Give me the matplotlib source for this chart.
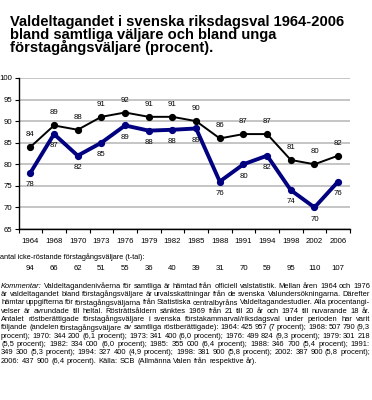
import matplotlib
matplotlib.use("Agg")
import matplotlib.pyplot as plt
import matplotlib.transforms as mtransforms
import numpy as np

plt.rcParams['font.family'] = ['Liberation Sans', 'DejaVu Sans']

# data
years = ['1964', '1968', '1970', '1973', '1976', '1979', '1982', '1985',
         '1988', '1991', '1994', '1998', '2002', '2006']
samtliga = [84, 89, 88, 91, 92, 91, 91, 90, 86, 87, 87, 81, 80, 82]
unga = [78, 87, 82, 85, 89, 87.8, 88, 88.3, 76, 80, 82, 74, 70, 76]
unga_labels = [78, 87, 82, 85, 89, 88, 88, 89, 76, 80, 82, 74, 70, 76]
icke_rostande = [94, 66, 62, 51, 55, 36, 40, 39, 31, 70, 59, 95, 110, 107]

title = ("Valdeltagandet i svenska riksdagsval 1964-2006\n"
         "bland samtliga väljare och bland unga\n"
         "förstagångsväljare (procent).")

comment_lines = [
    "Kommentar: Valdeltagandenivåerna för samtliga är hämtad från officiell valstatistik. Mellan åren 1964 och 1976",
    "är valdeltagandet bland förstagångsväljare är urvalsskattningar från de svenska Valundersökningarna. Därefter",
    "hämtar uppgifterna för förstagångsväljarna från Statistiska centralbyråns Valdeltagandestudier. Alla procentangi-",
    "velser är avrundade till heltal. Rösträttsåldern sänktes 1969 från 21 till 20 år och 1974 till nuvarande 18 år.",
    "Antalet röstberättigade förstagångsväljare i svenska förstakammarval/riksdagsval under perioden har varit",
    "följande (andelen förstagångsväljare av samtliga röstberättigade): 1964: 425 957 (7 procent); 1968: 507 790 (9,3",
    "procent); 1970: 344 200 (6,1 procent); 1973: 341 400 (6,0 procent); 1976: 499 824 (9,3 procent); 1979: 301 218",
    "(5,5 procent); 1982: 334 000 (6,0 procent); 1985: 355 000 (6,4 procent); 1988: 346 700 (5,4 procent); 1991:",
    "349 300 (5,3 procent); 1994: 327 400 (4,9 procent); 1998: 381 900 (5,8 procent); 2002: 387 900 (5,8 procent);",
    "2006: 437 900 (6,4 procent). Källa: SCB (Allmänna Valen från respektive år).",
]

W, H = 372, 400
fig = plt.figure(figsize=(W / 100, H / 100), dpi=100)
ax = fig.add_axes([18.5 / W, 1 - 229 / H, (350 - 18.5) / W, (229 - 78) / H])

x = np.arange(len(years))
ax.plot(x, samtliga, color='black', lw=1.4, marker='o', ms=4.2, zorder=3)
ax.plot(x, unga, color='#000080', lw=2.8, marker='o', ms=4.2, zorder=3)

lab_fs = 5.6
for xi, v in zip(x, samtliga):
    ax.annotate(str(v), (xi, v), xytext=(0, 9), textcoords='offset points',
                ha='center', va='center', fontsize=lab_fs)
for xi, v, lab in zip(x, unga, unga_labels):
    ax.annotate(str(lab), (xi, v), xytext=(0, -8.5), textcoords='offset points',
                ha='center', va='center', fontsize=lab_fs)

ax.set_xlim(-0.5, len(years) - 0.5)
ax.set_ylim(65, 100)
ax.set_yticks(range(65, 101, 5))
ax.yaxis.grid(True, color='#c0c0c0', lw=1.3)
ax.set_axisbelow(True)
ax.tick_params(axis='y', labelsize=lab_fs, length=3, width=0.8, pad=1.5)

# tick marks between categories, labels at the categories
ax.set_xticks(np.arange(len(years) + 1) - 0.5)
ax.set_xticklabels([])
ax.set_xticks(x, minor=True)
ax.set_xticklabels(years, minor=True, fontsize=lab_fs)
ax.tick_params(axis='x', which='major', length=3, width=0.8)
ax.tick_params(axis='x', which='minor', length=0, pad=6.5)

for s in ['top', 'right']:
    ax.spines[s].set_visible(False)
ax.spines['left'].set_linewidth(1.0)
ax.spines['bottom'].set_linewidth(1.0)

fig.text(10 / W, 1 - 15 / H, title, fontsize=10.6, fontweight='bold',
         va='top', ha='left', linespacing=0.88)

fig.text(0, 1 - 257 / H, "antal icke-röstande förstagångsväljare (t-tal):",
         fontsize=5.35, va='center', ha='left')
trans = mtransforms.blended_transform_factory(ax.transData, fig.transFigure)
for xi, n in zip(x, icke_rostande):
    fig.text(xi, 1 - 269 / H, str(n), transform=trans, fontsize=lab_fs,
             ha='center', va='center')

# justified comment paragraph
renderer = fig.canvas.get_renderer()
x0, x1 = 1.0, 370.0


def text_width(s, fs, style='normal'):
    t = fig.text(0, 0, s, fontsize=fs, style=style)
    w = t.get_window_extent(renderer).width
    t.remove()
    return w


def measure(words, styles, fs):
    space = text_width('a a', fs) - 2 * text_width('a', fs)
    widths = [text_width(w, fs, st) for w, st in zip(words, styles)]
    return space, widths


def split(i, line):
    words = line.split(' ')
    styles = ['normal'] * len(words)
    if i == 0:
        styles[0] = 'italic'
    return words, styles


# size the text so that the hyphenated third line just fills the width
words, styles = split(2, comment_lines[2])
fs = 6.0
for _ in range(4):
    space, widths = measure(words, styles, fs)
    natural = sum(widths) + space * (len(words) - 1)
    fs *= (x1 - x0) / natural

y = 286.0
for i, line in enumerate(comment_lines):
    words, styles = split(i, line)
    lfs = fs
    space, widths = measure(words, styles, lfs)
    # shrink a line that would otherwise be too crowded
    while sum(widths) + 0.6 * space * (len(words) - 1) > x1 - x0:
        lfs *= 0.98
        space, widths = measure(words, styles, lfs)
    if i == len(comment_lines) - 1:
        gap = space
    else:
        gap = (x1 - x0 - sum(widths)) / (len(words) - 1)
    xp = x0
    for w, st, wd in zip(words, styles, widths):
        fig.text(xp / W, 1 - y / H, w, fontsize=lfs, style=st,
                 ha='left', va='center')
        xp += wd + gap
    y += 8.35

fig.savefig('out.png', dpi=100)
